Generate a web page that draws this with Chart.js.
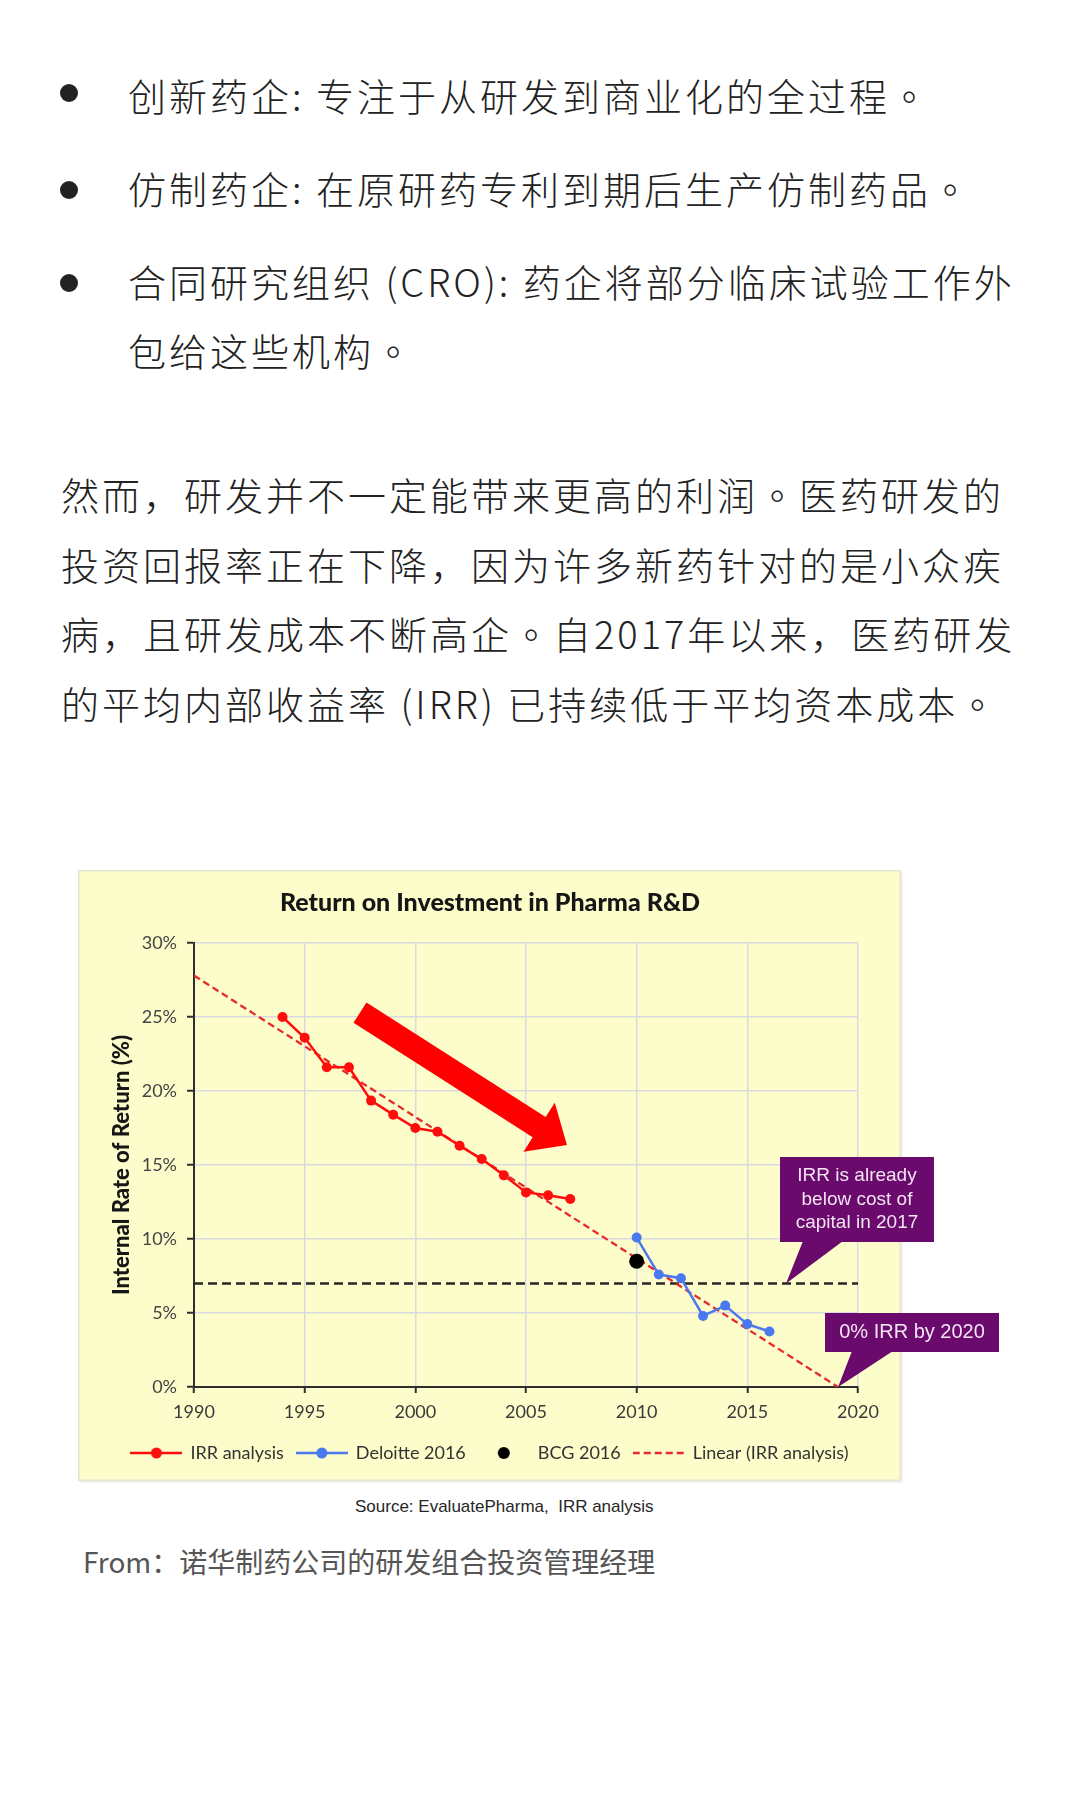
<!DOCTYPE html>
<html>
<head>
<meta charset="utf-8">
<script src="https://cdn.jsdelivr.net/npm/chart.js@4/dist/chart.umd.min.js"></script>
<style>
html,body{margin:0;padding:0;background:#fff;}
body{width:1080px;height:1800px;position:relative;overflow:hidden;font-family:"Noto Sans CJK SC","Noto Sans",sans-serif;color:#222;}
.ln{position:absolute;font-size:38px;letter-spacing:3px;line-height:50px;white-space:nowrap;font-weight:300;}
.p{font-family:"Noto Sans CJK TC","Noto Sans CJK SC",sans-serif;}
.dot{position:absolute;width:18px;height:18px;border-radius:50%;background:#222;}
#wrap{position:absolute;left:78px;top:870px;width:1002px;height:613px;}
#src{position:absolute;top:1497px;left:355px;line-height:20px;font:17px "Liberation Sans",Arial,sans-serif;color:#262626;white-space:nowrap;}
#from{position:absolute;left:83px;top:1541px;font-size:28px;line-height:40px;color:#555;white-space:nowrap;}
</style>
</head>
<body>
<div class="dot" style="left:60px;top:84px"></div>
<div class="ln" style="left:128px;top:70px">创新药企: 专注于从研发到商业化的全过程<span class="p">。</span></div>
<div class="dot" style="left:60px;top:181px"></div>
<div class="ln" style="left:128px;top:163px">仿制药企: 在原研药专利到期后生产仿制药品<span class="p">。</span></div>
<div class="dot" style="left:60px;top:274px"></div>
<div class="ln" style="left:128px;top:256px">合同研究组织 (CRO): 药企将部分临床试验工作外</div>
<div class="ln" style="left:128px;top:325px">包给这些机构<span class="p">。</span></div>

<div class="ln" style="left:61px;top:469px">然而，研发并不一定能带来更高的利润<span class="p">。</span>医药研发的</div>
<div class="ln" style="left:61px;top:539px">投资回报率正在下降，因为许多新药针对的是小众疾</div>
<div class="ln" style="left:61px;top:608px">病，且研发成本不断高企<span class="p">。</span>自2017年以来，医药研发</div>
<div class="ln" style="left:61px;top:678px">的平均内部收益率 (IRR) 已持续低于平均资本成本<span class="p">。</span></div>

<div id="wrap"><canvas id="c" width="1002" height="613"></canvas></div>
<div id="src">Source: EvaluatePharma,&nbsp; IRR analysis</div>
<div id="from">From：诺华制药公司的研发组合投资管理经理</div>

<script>
// ---- data ----
const chartTitle = 'Return on Investment in Pharma R&D';
const yAxisTitle = 'Internal Rate of Return (%)';

const irrYears  = [1994, 1995, 1996, 1997, 1998, 1999, 2000, 2001, 2002, 2003, 2004, 2005, 2006, 2007];
const irrValues = [25.0, 23.6, 21.6, 21.6, 19.35, 18.4, 17.5, 17.25, 16.3, 15.4, 14.3, 13.15, 12.95, 12.7];

const deloitteYears  = [2010, 2011, 2012, 2013, 2014, 2015, 2016];
const deloitteValues = [10.1, 7.6, 7.35, 4.8, 5.5, 4.25, 3.75];

const bcgYears  = [2010];
const bcgValues = [8.5];

const trendYears  = [1990, 2019.1];
const trendValues = [27.8, 0];

const costYears  = [1990, 2020];
const costValues = [7, 7];

const xTickValues = [1990, 1995, 2000, 2005, 2010, 2015, 2020];
const yTickValues = [0, 5, 10, 15, 20, 25, 30];

const legendNames = ['IRR analysis', 'Deloitte 2016', 'BCG 2016', 'Linear (IRR analysis)'];

const calloutTexts = [['IRR is already', 'below cost of', 'capital in 2017'], ['0% IRR by 2020']];
const calloutTips = [[2016.75, 7], [2019.1, 0]];

// ---- helpers ----
const pts = (xs, ys) => xs.map((x, i) => ({x: x, y: ys[i]}));

function legendIcon(ds) {
  const c = document.createElement('canvas');
  c.width = 52; c.height = 16;
  const g = c.getContext('2d');
  if (ds.showLine !== false) {
    g.strokeStyle = ds.borderColor;
    g.lineWidth = ds.borderWidth;
    if (ds.borderDash) g.setLineDash(ds.borderDash);
    g.beginPath(); g.moveTo(0, 8); g.lineTo(52, 8); g.stroke();
  }
  if (ds.pointRadius > 0) {
    g.fillStyle = ds.pointBackgroundColor;
    g.beginPath(); g.arc(26, 8, ds.legendMarker || ds.pointRadius, 0, Math.PI * 2); g.fill();
  }
  return c;
}

const bgPlugin = {
  id: 'bg',
  beforeDraw(chart) {
    const g = chart.ctx;
    g.save();
    g.fillStyle = '#f1f1ea';
    g.fillRect(2, 3, 823, 613);
    g.fillStyle = '#fdfdcb';
    g.fillRect(0, 0, 823, 611);
    g.strokeStyle = '#e4e4d2';
    g.lineWidth = 1.5;
    g.strokeRect(0.75, 0.75, 821.5, 609.5);
    g.restore();
  }
};

const arrowPlugin = {
  id: 'bigArrow',
  afterDatasetsDraw(chart) {
    const xs = chart.scales.x, ys = chart.scales.y;
    const p0 = {x: xs.getPixelForValue(1997.5), y: ys.getPixelForValue(25.3)};
    const p1 = {x: xs.getPixelForValue(2006.85), y: ys.getPixelForValue(16.35)};
    const dx = p1.x - p0.x, dy = p1.y - p0.y, L = Math.hypot(dx, dy);
    const u = {x: dx / L, y: dy / L}, n = {x: -u.y, y: u.x};
    const sw = 12, hw = 29, hl = 33;
    const b = {x: p1.x - u.x * hl, y: p1.y - u.y * hl};
    const g = chart.ctx;
    g.save();
    g.fillStyle = '#ff0000';
    g.beginPath();
    g.moveTo(p0.x + n.x * sw, p0.y + n.y * sw);
    g.lineTo(b.x + n.x * sw, b.y + n.y * sw);
    g.lineTo(b.x + n.x * hw, b.y + n.y * hw);
    g.lineTo(p1.x, p1.y);
    g.lineTo(b.x - n.x * hw, b.y - n.y * hw);
    g.lineTo(b.x - n.x * sw, b.y - n.y * sw);
    g.lineTo(p0.x - n.x * sw, p0.y - n.y * sw);
    g.closePath();
    g.fill();
    g.restore();
  }
};

const calloutPlugin = {
  id: 'callouts',
  afterDraw(chart) {
    const xs = chart.scales.x, ys = chart.scales.y;
    const boxes = [
      {box: [702, 287, 154, 85], base: [725, 765], font: 19, gap: 23.3},
      {box: [747, 443, 174, 39], base: [774, 815], font: 20, gap: 24}
    ];
    const g = chart.ctx;
    g.save();
    boxes.forEach((b, i) => {
      const [bx, by, bw, bh] = b.box;
      const tx = xs.getPixelForValue(calloutTips[i][0]);
      const ty = ys.getPixelForValue(calloutTips[i][1]);
      g.fillStyle = '#6a0a6c';
      g.beginPath();
      g.rect(bx, by, bw, bh);
      g.fill();
      g.beginPath();
      g.moveTo(b.base[0], by + bh - 1);
      g.lineTo(tx, ty);
      g.lineTo(b.base[1], by + bh - 1);
      g.closePath();
      g.fill();
      g.fillStyle = '#f3e4f3';
      g.font = b.font + 'px "Liberation Sans", Arial, sans-serif';
      g.textAlign = 'center';
      g.textBaseline = 'middle';
      const lines = calloutTexts[i];
      const cy = by + bh / 2;
      lines.forEach((t, k) => {
        g.fillText(t, bx + bw / 2, cy + (k - (lines.length - 1) / 2) * b.gap);
      });
    });
    g.restore();
  }
};

const datasets = [
  {label: legendNames[0], data: pts(irrYears, irrValues), borderColor: '#ff0d0d', backgroundColor: '#ff0d0d',
   pointBackgroundColor: '#ff0d0d', borderWidth: 2.5, pointRadius: 5, pointBorderWidth: 0, legendMarker: 5.5, order: 1},
  {label: legendNames[1], data: pts(deloitteYears, deloitteValues), borderColor: '#4a78ee', backgroundColor: '#4a78ee',
   pointBackgroundColor: '#4a78ee', borderWidth: 2.5, pointRadius: 5, pointBorderWidth: 0, legendMarker: 5.5, order: 2},
  {label: legendNames[2], data: pts(bcgYears, bcgValues), showLine: false, borderColor: '#000', backgroundColor: '#000',
   pointBackgroundColor: '#000', borderWidth: 0, pointRadius: 7.5, pointBorderWidth: 0, legendMarker: 6, order: 0},
  {label: legendNames[3], data: pts(trendYears, trendValues), borderColor: '#e82a2a', backgroundColor: '#e82a2a',
   pointBackgroundColor: '#e82a2a', borderWidth: 2.3, borderDash: [7, 4], pointRadius: 0, order: 3},
  {label: 'Cost of capital', data: pts(costYears, costValues), borderColor: '#262626', backgroundColor: '#262626',
   pointBackgroundColor: '#262626', borderWidth: 2.5, borderDash: [9, 5], pointRadius: 0, order: 4, inLegend: false}
];

new Chart(document.getElementById('c'), {
  type: 'line',
  data: {datasets: datasets},
  plugins: [bgPlugin, arrowPlugin, calloutPlugin],
  options: {
    responsive: false,
    animation: false,
    devicePixelRatio: 1,
    layout: {padding: {left: 0, right: 178, top: 0, bottom: 11}},
    plugins: {
      tooltip: {enabled: false},
      title: {
        display: true, text: chartTitle, color: '#161616',
        font: {family: 'Lato', size: 25, weight: 900},
        padding: {top: 18, bottom: 25}
      },
      legend: {
        position: 'bottom',
        labels: {
          usePointStyle: true, pointStyleWidth: 50, boxHeight: 16,
          padding: 13, color: '#333',
          font: {family: 'Lato', size: 18},
          generateLabels(chart) {
            return chart.data.datasets.map((ds, i) => ({ds, i}))
              .filter(o => o.ds.inLegend !== false)
              .map(o => ({
                text: o.ds.label, datasetIndex: o.i, pointStyle: legendIcon(o.ds),
                fillStyle: 'transparent', strokeStyle: 'transparent', lineWidth: 0,
                fontColor: '#333', hidden: false
              }));
          }
        }
      }
    },
    scales: {
      x: {
        type: 'linear', min: 1990, max: 2020,
        afterBuildTicks(s) { s.ticks = xTickValues.map(v => ({value: v})); },
        afterFit(s) { s.height = 44; },
        ticks: {padding: 8, color: '#3a3a3a', font: {family: 'Lato', size: 18}, maxRotation: 0, autoSkip: false,
                callback: v => String(v)},
        grid: {color: '#d9d9e3', lineWidth: 1.5, tickLength: 6, tickColor: '#2e2e2e', tickWidth: 2},
        border: {display: true, color: '#2e2e2e', width: 2}
      },
      y: {
        type: 'linear', min: 0, max: 30,
        afterBuildTicks(s) { s.ticks = yTickValues.map(v => ({value: v})); },
        afterFit(s) { s.width = 116; },
        ticks: {padding: 10, color: '#444', font: {family: 'Lato', size: 18}, callback: v => v + '%'},
        grid: {color: '#d9d9e3', lineWidth: 1.5, tickLength: 7, tickColor: '#2e2e2e', tickWidth: 2},
        border: {display: true, color: '#2e2e2e', width: 2},
        title: {display: true, text: yAxisTitle, color: '#161616', font: {family: 'Lato', size: 22, weight: 900},
                padding: {top: 31, bottom: 0}}
      },
      y2: {
        type: 'linear', position: 'right', display: true,
        afterFit(s) { s.width = 44; },
        ticks: {display: false}, grid: {display: false}, border: {display: false}
      }
    }
  }
});
</script>
</body>
</html>
